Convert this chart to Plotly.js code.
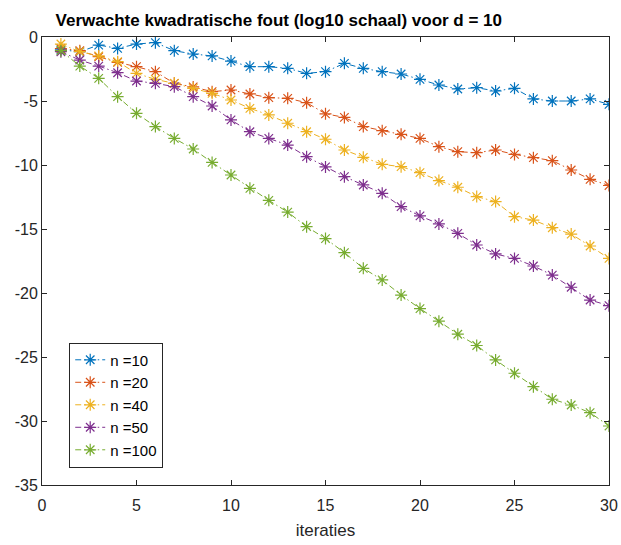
<!DOCTYPE html>
<html>
<head>
<meta charset="utf-8">
<script src="https://cdn.plot.ly/plotly-3.0.1.min.js"></script>
<style>html,body{margin:0;padding:0;background:#fff;}#chart{width:621px;height:545px;}</style>
</head>
<body>
<div id="chart"></div>
<script>
const iterations = Array.from({length: 30}, (_, i) => i + 1);
const seriesNames = ["n =10", "n =20", "n =40", "n =50", "n =100"];
const seriesColors = ["#0072BD", "#D95319", "#EDB120", "#7E2F8E", "#77AC30"];

const n10 = [-1.0, -1.15, -0.63, -0.89, -0.55, -0.44, -1.07, -1.33, -1.48, -1.88,
             -2.32, -2.32, -2.45, -2.84, -2.71, -2.06, -2.45, -2.71, -2.89, -3.31,
             -3.75, -4.06, -3.96, -4.22, -4.01, -4.84, -5.0, -5.0, -4.84, -5.26];
const n20 = [-0.9, -1.07, -1.54, -1.98, -2.32, -2.71, -3.62, -3.9, -4.27, -4.14,
             -4.45, -4.74, -4.79, -5.13, -6.0, -6.28, -7.0, -7.32, -7.6, -7.92,
             -8.57, -8.96, -9.04, -8.83, -9.17, -9.43, -9.66, -10.39, -11.12, -11.6];
const n40 = [-0.55, -1.15, -1.48, -1.93, -2.84, -3.31, -3.62, -4.01, -4.4, -4.92,
             -5.57, -6.09, -6.74, -7.4, -7.99, -8.83, -9.4, -9.95, -10.13, -10.6,
             -11.22, -11.74, -12.47, -12.86, -14.04, -14.3, -14.9, -15.4, -16.33, -17.3];
const n50 = [-1.15, -1.8, -2.27, -2.79, -3.44, -3.62, -3.88, -4.66, -5.39, -6.48,
             -7.4, -7.92, -8.44, -9.35, -10.15, -10.91, -11.56, -12.21, -13.25, -13.98,
             -14.6, -15.34, -16.25, -16.95, -17.3, -17.89, -18.6, -19.55, -20.55, -20.99];
const n100 = [-1.07, -2.27, -3.23, -4.66, -5.96, -7.0, -7.92, -8.75, -9.8, -10.78,
              -11.82, -12.76, -13.68, -14.82, -15.75, -16.85, -18.07, -18.98, -20.16, -21.22,
              -22.2, -23.22, -24.1, -25.23, -26.27, -27.32, -28.3, -28.75, -29.35, -30.39];

const allSeries = [n10, n20, n40, n50, n100];
const xTicks = [0, 5, 10, 15, 20, 25, 30];
const yTicks = [0, -5, -10, -15, -20, -25, -30, -35];

const traces = allSeries.map((vals, i) => ({
  x: iterations,
  y: vals,
  type: 'scatter',
  mode: 'lines+markers',
  name: seriesNames[i],
  line: {color: seriesColors[i], width: 1, dash: '6px,3px,1.5px,3px'},
  marker: {symbol: 'asterisk-open', size: 10, color: seriesColors[i], line: {color: seriesColors[i], width: 1.2}}
}));

const fontFam = '"Liberation Sans", Arial, Helvetica, sans-serif';
const layout = {
  width: 621, height: 545,
  margin: {l: 42, r: 12, t: 37, b: 60},
  paper_bgcolor: '#ffffff', plot_bgcolor: '#ffffff',
  font: {family: fontFam, size: 16, color: '#262626'},
  title: {text: '<b>Verwachte kwadratische fout (log10 schaal) voor d = 10</b>',
          font: {family: fontFam, size: 17, color: '#000000'},
          x: 0.449, xref: 'container', xanchor: 'center', y: 0.963, yanchor: 'middle', yref: 'container'},
  xaxis: {range: [0, 30], tickvals: xTicks, ticktext: xTicks.map(String),
          ticks: 'inside', ticklen: 5, tickcolor: '#262626', mirror: 'ticks',
          showline: true, linecolor: '#262626', linewidth: 1, showgrid: false, zeroline: false,
          tickfont: {size: 16, color: '#262626'}, ticklabelstandoff: 6,
          title: {text: 'iteraties', font: {size: 17, color: '#262626'}, standoff: 10}},
  yaxis: {range: [-35, 0], tickvals: yTicks, ticktext: yTicks.map(String),
          ticks: 'inside', ticklen: 5, tickcolor: '#262626', mirror: 'ticks',
          showline: true, linecolor: '#262626', linewidth: 1, showgrid: false, zeroline: false,
          tickfont: {size: 16, color: '#262626'}},
  legend: {x: 0.048, y: 0.318, xanchor: 'left', yanchor: 'top',
           bordercolor: '#262626', borderwidth: 1, bgcolor: '#ffffff',
           font: {size: 15, color: '#000000'}, tracegroupgap: 0, itemwidth: 30},
  showlegend: true
};

Plotly.newPlot('chart', traces, layout, {displayModeBar: false, staticPlot: true});
</script>
</body>
</html>
